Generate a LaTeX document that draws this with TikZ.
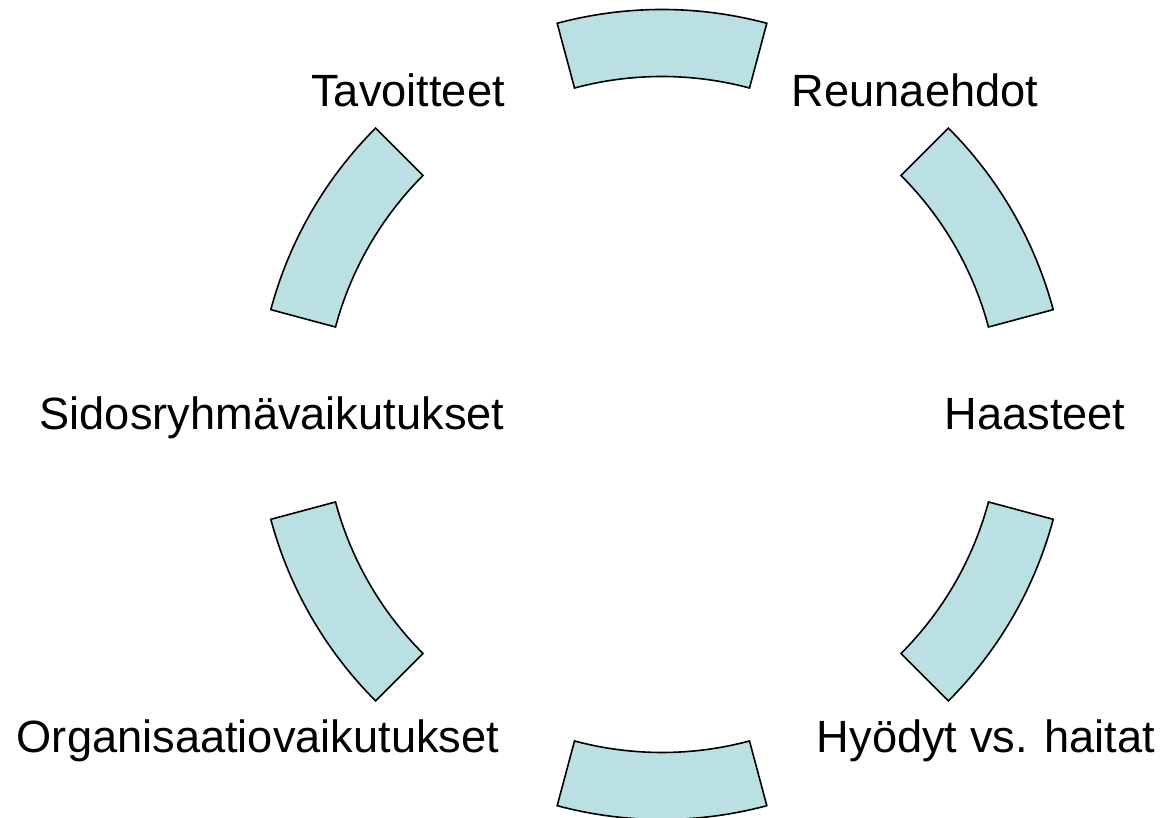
\documentclass[tikz,border=0pt]{standalone}
\usepackage{fontspec}
\setmainfont{Liberation Sans}
\definecolor{segfill}{HTML}{BBE0E3}
\tikzset{
  seg/.style={draw=black, fill=segfill, line width=1.6pt, line join=miter},
  lbl/.style={anchor=base, inner sep=0pt, font=\fontsize{45.2}{54}\selectfont}
}
\begin{document}
\begin{tikzpicture}[x=1pt,y=1pt]
\useasboundingbox (0,0) rectangle (1171,818);
\coordinate (c) at (662,403.5);
\foreach \m in {90,150,210,270,330,30}{
  \pgfmathsetmacro{\aa}{\m-15}
  \pgfmathsetmacro{\ab}{\m+15}
  \draw[seg, shift={(c)}] (\aa:405) arc[start angle=\aa, end angle=\ab, radius=405]
     -- (\ab:338) arc[start angle=\ab, end angle=\aa, radius=338] -- cycle;
}
\node[lbl] (tav) at (408,711) {Tavoitteet};
\node[lbl] (reu) at (915,711) {Reunaehdot};
\node[lbl] (sid) at (272,388) {Sidosryhmävaikutukset};
\node[lbl] (haa) at (1035,388) {Haasteet};
\node[lbl] (org) at (258,65) {Organisaatiovaikutukset};
\node[lbl] (hyo) at (986,65) {Hyödyt vs. haitat};
\end{tikzpicture}
\end{document}
